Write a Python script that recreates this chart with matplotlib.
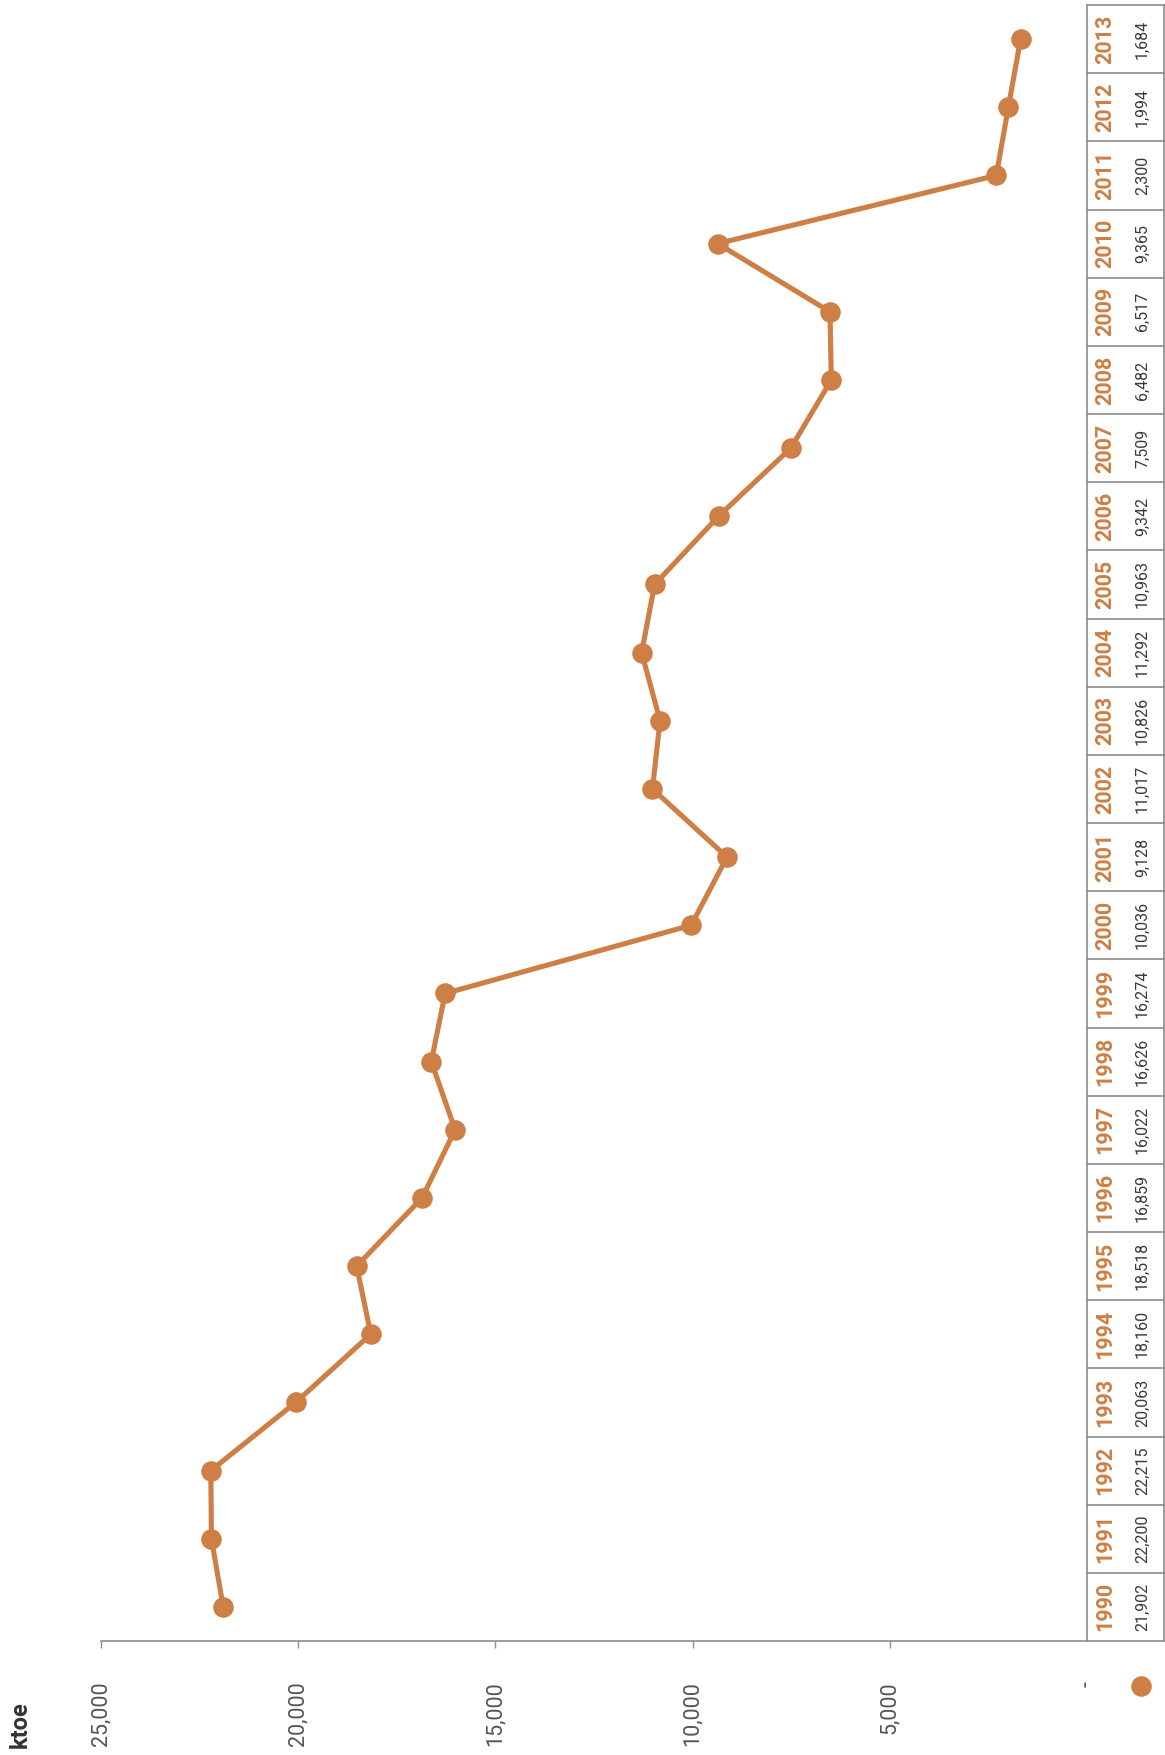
import matplotlib.pyplot as plt
from matplotlib.lines import Line2D
import numpy as np

# Data read from the (rotated) reference chart
years = list(range(1990, 2014))
ktoe = [21902, 22200, 22215, 20063, 18160, 18518, 16859, 16022, 16626, 16274,
        10036, 9128, 11017, 10826, 11292, 10963, 9342, 7509, 6482, 6517,
        9365, 2300, 1994, 1684]
tick_vals = [0, 5000, 10000, 15000, 20000, 25000]
tick_text = ['-', '5,000', '10,000', '15,000', '20,000', '25,000']

orange = '#CE7F45'
grid_grey = '#8c8c8c'

plt.rcParams['font.family'] = ['Roboto', 'DejaVu Sans']

W, H = 1165, 1755
fig = plt.figure(figsize=(W / 100, H / 100), dpi=100)

# layout in pixels (from top-left)
x_left, x_zero, x_right = 101, 1087, 1164
y_top, y_bot = 5, 1641

ax = fig.add_axes([x_left / W, (H - y_bot) / H, (x_zero - x_left) / W, (y_bot - y_top) / H])
axt = fig.add_axes([x_zero / W, (H - y_bot) / H, (x_right - x_zero) / W, (y_bot - y_top) / H])

ylo, yhi = years[0] - 0.5, years[-1] + 0.5

# main line (values run right-to-left, years bottom-to-top)
ax.plot(ktoe, years, color=orange, lw=3.7, marker='o', markersize=13.8,
        solid_capstyle='round', solid_joinstyle='round', clip_on=False, zorder=3)
ax.set_xlim(25000, 0)
ax.set_ylim(ylo, yhi)
for s in ['left', 'top', 'right']:
    ax.spines[s].set_visible(False)
ax.spines['bottom'].set_color(grid_grey)
ax.spines['bottom'].set_linewidth(1.2)
ax.set_yticks([])
ax.set_xticks(tick_vals)
ax.set_xticklabels(tick_text, rotation=90, fontsize=15.5, color='#555555')
ax.tick_params(axis='x', length=5, width=1, color=grid_grey, pad=24)
ax.xaxis.get_major_ticks()[0].tick1line.set_visible(False)

# data table on the right
axt.set_xlim(0, 1)
axt.set_ylim(ylo, yhi)
axt.axis('off')
for b in np.arange(ylo, yhi + 1, 1.0):
    axt.plot([0, 1], [b, b], color=grid_grey, lw=1.2, clip_on=False)
axt.plot([0, 0], [ylo, yhi], color=grid_grey, lw=1.2, clip_on=False)
axt.plot([1, 1], [ylo, yhi], color=grid_grey, lw=1.2, clip_on=False)
for yr, v in zip(years, ktoe):
    axt.text(0.24, yr, str(yr), rotation=90, ha='center', va='center',
             fontsize=15.5, fontweight='bold', color=orange)
    axt.text(0.72, yr, f'{v:,}', rotation=90, ha='center', va='center',
             fontsize=11.5, color='#3a3a3a')

# legend marker and unit label
fig.add_artist(Line2D([1141 / W], [(H - 1686) / H], marker='o', markersize=13.8,
                      color=orange, transform=fig.transFigure))
fig.text(20 / W, (H - 1748) / H, 'ktoe', rotation=90, ha='center', va='bottom',
         fontsize=17, fontweight='bold', color='#333333')

fig.savefig('out.png', dpi=100)
